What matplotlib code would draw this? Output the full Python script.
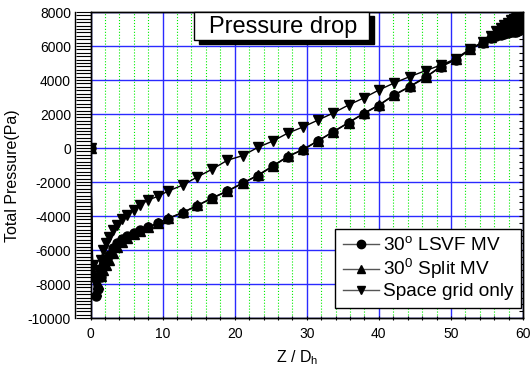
import matplotlib
matplotlib.use("Agg")
import matplotlib.pyplot as plt
from matplotlib.ticker import MultipleLocator
from matplotlib.lines import Line2D
from matplotlib.patches import Rectangle

plt.rcParams['font.family'] = ['Liberation Sans', 'DejaVu Sans']
plt.rcParams['axes.unicode_minus'] = False
plt.rcParams['mathtext.fontset'] = 'custom'
plt.rcParams['mathtext.rm'] = 'Liberation Sans'

# Z / Dh positions of the data points
z = [0, 0.3, 0.7, 1.0, 1.4, 1.8, 2.2, 2.6, 3.1, 3.7, 4.4, 5.1, 6.0, 6.9, 8.0,
     9.3, 10.8, 12.8, 14.8, 16.9, 19.0, 21.1, 23.2, 25.3, 27.4, 29.5, 31.6,
     33.7, 35.8, 37.9, 40.0, 42.1, 44.3, 46.5, 48.6, 50.7, 52.7, 54.5, 55.6,
     56.3, 56.9, 57.4, 57.9, 58.3, 58.7, 59.0, 59.3, 59.6, 59.9]

# total pressure (Pa)
lsvf = [0, -7600, -8700, -8300, -7600, -7000, -6600, -6300, -5900, -5600,
        -5350, -5200, -5000, -4850, -4650, -4420, -4150, -3800, -3400, -2950,
        -2550, -2080, -1630, -1080, -500, -100, 420, 950, 1480, 2020, 2500,
        3100, 3600, 4150, 4780, 5200, 5800, 6200, 6450, 6600, 6650, 6700,
        6750, 6800, 6850, 6850, 6900, 6950, 7000]
split = [0, -7300, -8400, -8000, -7500, -7200, -6900, -6600, -6200, -5800,
         -5500, -5300, -5050, -4880, -4670, -4440, -4130, -3790, -3380, -2930,
         -2520, -2060, -1600, -1050, -480, -80, 440, 970, 1500, 2040, 2530,
         3120, 3630, 4180, 4800, 5220, 5820, 6230, 6550, 6800, 6900, 7000,
         7100, 7150, 7250, 7300, 7350, 7400, 7450]
space_grid = [0, -6900, -7800, -7200, -6600, -6000, -5600, -5250, -4850, -4550,
              -4200, -3950, -3650, -3350, -3060, -2850, -2530, -2180, -1710,
              -1240, -720, -450, 30, 410, 880, 1240, 1650, 2060, 2530, 2940,
              3410, 3820, 4200, 4550, 4880, 5250, 5850, 6250, 6600, 6900, 7050,
              7250, 7350, 7500, 7600, 7700, 7750, 7850, 7950]

labels = ['30$^\\mathregular{o}$ LSVF MV', '30$^\\mathregular{0}$ Split MV',
          'Space grid only']

W, H = 530, 372
fig = plt.figure(figsize=(W / 100, H / 100), dpi=100)
ax = fig.add_axes([90.5 / W, 1 - 318 / H, (523 - 90.5) / W, 306 / H])

ax.plot(z, space_grid, 'k-', marker='v', ms=7, lw=1, zorder=3)
ax.plot(z, split, 'k-', marker='^', ms=7, lw=1, zorder=3)
ax.plot(z, lsvf, 'k-', marker='o', ms=6.5, lw=1, zorder=4)

ax.set_xlim(0, 60)
ax.set_ylim(-10000, 8000)
ax.xaxis.set_major_locator(MultipleLocator(10))
ax.xaxis.set_minor_locator(MultipleLocator(2))
ax.yaxis.set_major_locator(MultipleLocator(2000))
ax.yaxis.set_minor_locator(MultipleLocator(200))

ax.grid(which='major', color='#2a2aff', lw=1.0, ls='-')
ax.grid(which='minor', axis='x', color='#00ee00', lw=0.8, ls=':')
ax.set_axisbelow(True)

ax.tick_params(axis='y', which='both', direction='out', length=11, width=0.8,
               labelsize=10, pad=3, right=False)
ax.tick_params(axis='x', which='both', direction='inout', length=3, width=0.8,
               labelsize=10, pad=5, top=False)

ax2 = ax.twinx()
ax2.set_ylim(-10000, 8000)
ax2.yaxis.set_major_locator(MultipleLocator(400))
ax2.tick_params(axis='y', direction='in', length=3, width=0.8, labelright=False)

for a in (ax, ax2):
    for s in a.spines.values():
        s.set_linewidth(1)

# left edge of the tick band
fig.add_artist(Line2D([75 / W, 75 / W], [1 - 12 / H, 1 - 318 / H],
                      transform=fig.transFigure, color='k', lw=1))

fig.text(13 / W, 1 - 176 / H, 'Total Pressure(Pa)', rotation=90,
         ha='center', va='center', fontsize=11.5)
fig.text(297 / W, 1 - 358 / H, 'Z / D$_\\mathregular{h}$', ha='center',
         va='center', fontsize=11.5)

# title box with drop shadow
fig.add_artist(Rectangle((199 / W, 1 - 44 / H), 175 / W, 28 / H,
                         transform=fig.transFigure, fc='black', ec='black', lw=1))
fig.add_artist(Rectangle((194 / W, 1 - 40 / H), 175 / W, 28 / H,
                         transform=fig.transFigure, fc='white', ec='black', lw=1))
fig.text(283 / W, 1 - 27 / H, 'Pressure drop', ha='center', va='center',
         fontsize=17)

handles = [Line2D([], [], color='#555555', lw=1, marker=m, mfc='k', mec='k',
                  ms=6)
           for m in ('o', '^', 'v')]
leg = ax2.legend(handles, labels, loc='lower right',
                 bbox_to_anchor=(0.995, 0.033), borderaxespad=0,
                 fontsize=13.7, frameon=True, fancybox=False, framealpha=1,
                 edgecolor='black', handlelength=1.9, handletextpad=0.2,
                 labelspacing=0.08, borderpad=0.4)
leg.get_frame().set_linewidth(1)

fig.savefig('out.png', dpi=100)
